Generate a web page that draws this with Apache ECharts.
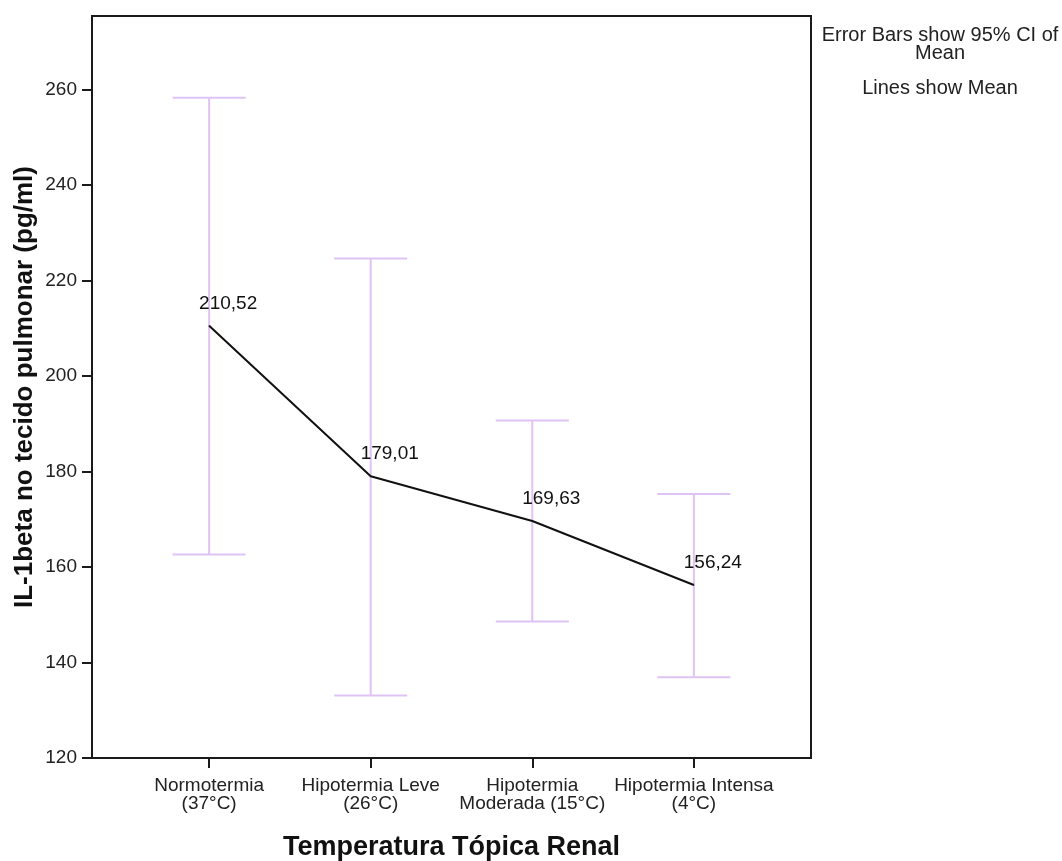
<!DOCTYPE html>
<html>
<head>
<meta charset="utf-8">
<script src="https://cdn.jsdelivr.net/npm/echarts@6/dist/echarts.min.js"></script>
<style>html,body{margin:0;padding:0;background:#fff}#c{width:1062px;height:861px}</style>
</head>
<body>
<div id="c"></div>
<script>
const categories = ['Normotermia\n(37°C)', 'Hipotermia Leve\n(26°C)', 'Hipotermia\nModerada (15°C)', 'Hipotermia Intensa\n(4°C)'];
const means = [210.52, 179.01, 169.63, 156.24];
const ciUpper = [258.3, 224.6, 190.7, 175.3];
const ciLower = [162.6, 133.1, 148.6, 136.9];
const yTicks = [120, 140, 160, 180, 200, 220, 240, 260];
const xTicks = [0, 1, 2, 3];

const FONT = '"Liberation Sans", Arial, sans-serif';
const AXIS = '#1a1a1a';
const BAR = '#E0C3F5';

const chart = echarts.init(document.getElementById('c'), null, {renderer: 'canvas'});
chart.setOption({
  animation: false,
  backgroundColor: '#fff',
  grid: {left: 92, top: 16, right: 251, bottom: 103, show: true, borderColor: AXIS, borderWidth: 2, containLabel: false, outerBoundsMode: 'none'},
  xAxis: {
    type: 'value', min: -0.725, max: 3.725,
    name: 'Temperatura Tópica Renal', nameLocation: 'middle', nameGap: 76,
    nameTextStyle: {fontFamily: FONT, fontWeight: 'bold', fontSize: 27, color: '#111'},
    axisLine: {show: true, onZero: false, lineStyle: {color: AXIS, width: 2}},
    axisTick: {show: true, customValues: xTicks, length: 10, lineStyle: {color: AXIS, width: 2}},
    axisLabel: {customValues: xTicks, formatter: v => categories[Math.round(v)], fontFamily: FONT, fontSize: 19, color: '#222', lineHeight: 18, margin: 19},
    splitLine: {show: false}
  },
  yAxis: {
    type: 'value', min: 120, max: 275.4,
    name: 'IL-1beta no tecido pulmonar (pg/ml)', nameLocation: 'middle', nameGap: 54, nameRotate: 90, nameMoveOverlap: false,
    nameTextStyle: {fontFamily: FONT, fontWeight: 'bold', fontSize: 26, color: '#111'},
    axisLine: {show: true, onZero: false, lineStyle: {color: AXIS, width: 2}},
    axisTick: {show: true, customValues: yTicks, length: 10, lineStyle: {color: AXIS, width: 2}},
    axisLabel: {customValues: yTicks, fontFamily: FONT, fontSize: 19, color: '#222', margin: 15},
    splitLine: {show: false}
  },
  series: [
    {
      type: 'custom',
      data: xTicks.map(i => [i, ciLower[i], ciUpper[i]]),
      renderItem: function (params, api) {
        const x = api.value(0), lo = api.value(1), hi = api.value(2);
        const w = 0.226;
        const pTop = api.coord([x, hi]), pBot = api.coord([x, lo]);
        const tl = api.coord([x - w, hi]), tr = api.coord([x + w, hi]);
        const bl = api.coord([x - w, lo]), br = api.coord([x + w, lo]);
        const style = {stroke: BAR, lineWidth: 2};
        return {type: 'group', children: [
          {type: 'line', shape: {x1: pTop[0], y1: pTop[1], x2: pBot[0], y2: pBot[1]}, style},
          {type: 'line', shape: {x1: tl[0], y1: tl[1], x2: tr[0], y2: tr[1]}, style},
          {type: 'line', shape: {x1: bl[0], y1: bl[1], x2: br[0], y2: br[1]}, style}
        ]};
      },
      z: 2
    },
    {
      type: 'line',
      data: xTicks.map(i => [i, means[i]]),
      symbol: 'circle', symbolSize: 1, showSymbol: true,
      lineStyle: {color: '#111', width: 2},
      itemStyle: {color: '#111'},
      label: {show: true, position: 'top', offset: [19, -7], fontFamily: FONT, fontSize: 19, color: '#111',
        formatter: p => means[p.dataIndex].toFixed(2).replace('.', ',')},
      z: 3
    }
  ],
  graphic: [
    {type: 'text', x: 940, y: 26, style: {text: 'Error Bars show 95% CI of\nMean', textAlign: 'center', fontFamily: FONT, fontSize: 20, lineHeight: 18, fill: '#222'}},
    {type: 'text', x: 940, y: 78, style: {text: 'Lines show Mean', textAlign: 'center', fontFamily: FONT, fontSize: 20, fill: '#222'}}
  ]
});
</script>
</body>
</html>
